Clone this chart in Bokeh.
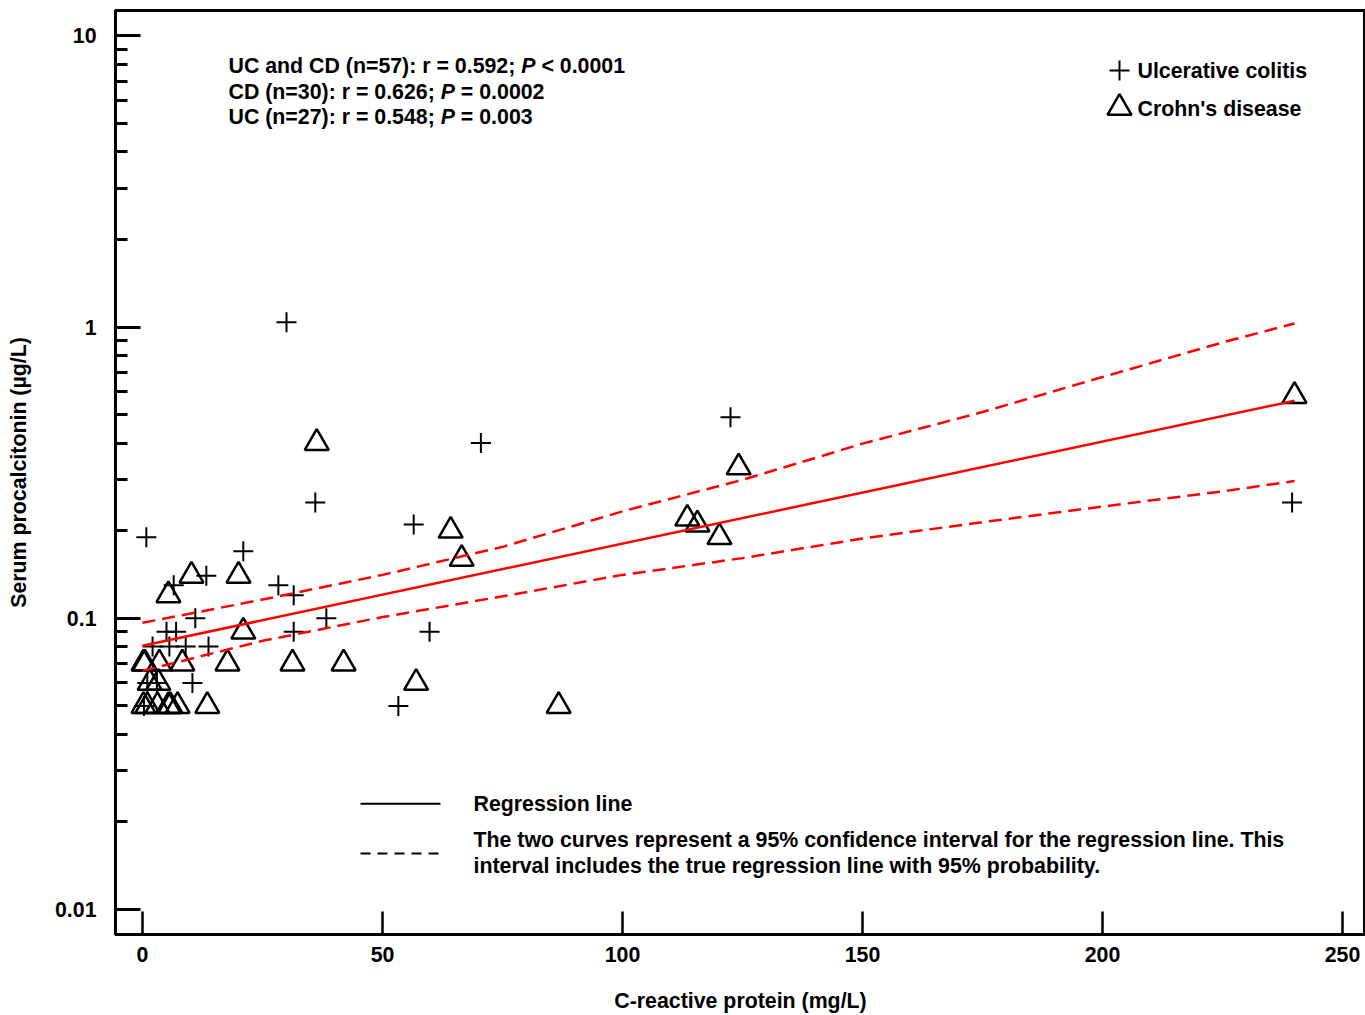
import math
from bokeh.plotting import figure
from bokeh.models import Range1d, FixedTicker, Label
from bokeh.embed import file_html
from bokeh.resources import INLINE

# ---------------- data ----------------
uc_crp = [30, 122.5, 70.5, 36, 239.5, 56.5, 0.8, 21, 13.3, 28.3, 6.5, 31.5, 11, 38.3,
          5, 7, 31.5, 59.8, 2.1, 5.6, 9, 13.75, 10.4, 1, 3, 0.3, 53.3]
uc_pct = [1.04, 0.49, 0.40, 0.25, 0.25, 0.21, 0.19, 0.17, 0.14, 0.13, 0.13, 0.12, 0.10, 0.10,
          0.09, 0.09, 0.09, 0.09, 0.08, 0.08, 0.08, 0.08, 0.06, 0.06, 0.06, 0.05, 0.05]

cd_crp = [240, 36.3, 124.2, 64.2, 66.5, 113.5, 115.6, 120.2, 5.4, 10.2, 20, 21,
          0.2, 0.5, 3.5, 8.3, 17.7, 31.25, 41.9, 1.5, 3.3, 57,
          0.2, 1, 3.1, 5.4, 5.8, 7.3, 13.5, 86.7]
cd_pct = [0.58, 0.40, 0.33, 0.20, 0.16, 0.22, 0.21, 0.19, 0.12, 0.14, 0.14, 0.09,
          0.07, 0.07, 0.07, 0.07, 0.07, 0.07, 0.07, 0.06, 0.06, 0.06,
          0.05, 0.05, 0.05, 0.05, 0.05, 0.05, 0.05, 0.05]

reg_x = [0, 240]
reg_y = [0.0805, 0.559]

ci_x = [0, 25, 50, 75, 100, 125, 150, 175, 200, 225, 240]
ci_upper = [0.0965, 0.116, 0.141, 0.176, 0.233, 0.299, 0.398, 0.511, 0.674, 0.886, 1.03]
ci_lower = [0.066, 0.0837, 0.101, 0.119, 0.141, 0.161, 0.188, 0.214, 0.242, 0.273, 0.296]

x_ticks = [0, 50, 100, 150, 200, 250]
y_ticks = [0.01, 0.1, 1, 10]
y_tick_labels = ["0.01", "0.1", "1", "10"]
y_minor = [m * 10.0 ** e for e in (-2, -1, 0) for m in range(2, 10)]

stats_lines = [
    ("UC and CD (n=57): r = 0.592;", "< 0.0001"),
    ("CD (n=30): r = 0.626;", "= 0.0002"),
    ("UC (n=27): r = 0.548;", "= 0.003"),
]

# ---------------- layout helpers (page pixel -> data) ----------------
W, H = 1365, 1015
FRAME_LEFT, FRAME_TOP, FRAME_BOTTOM = 115, 10, 935


def X(px):
    return (px - 142) / 4.8


def Y(py):
    return 10 ** ((327 - py) / 291.5)


FONT = "Liberation Sans"
EM = 21.33
FS = "16pt"

p = figure(width=W, height=H, y_axis_type="log", output_backend="svg", toolbar_location=None,
           x_range=Range1d(X(FRAME_LEFT), X(W)), y_range=Range1d(Y(FRAME_BOTTOM), Y(FRAME_TOP)),
           min_border_left=FRAME_LEFT, min_border_right=0, min_border_top=FRAME_TOP,
           min_border_bottom=H - FRAME_BOTTOM)
p.xgrid.visible = False
p.ygrid.visible = False
p.outline_line_color = "black"
p.outline_line_width = 3
p.background_fill_color = "white"
p.border_fill_color = "white"

xa = p.xaxis[0]
xa.ticker = FixedTicker(ticks=x_ticks, minor_ticks=[])
xa.major_tick_in = 23
xa.major_tick_out = 0
xa.minor_tick_in = 0
xa.minor_tick_out = 0
xa.major_tick_line_width = 2.5
xa.axis_line_width = 3
xa.major_label_standoff = 12
xa.axis_label = "C-reactive protein (mg/L)"
xa.axis_label_standoff = 24

ya = p.yaxis[0]
ya.ticker = FixedTicker(ticks=y_ticks, minor_ticks=y_minor)
ya.major_label_overrides = {t: s for t, s in zip(y_ticks, y_tick_labels)}
ya.major_tick_in = 25
ya.major_tick_out = 0
ya.minor_tick_in = 12
ya.minor_tick_out = 0
ya.major_tick_line_width = 3
ya.minor_tick_line_width = 3
ya.axis_line_width = 3
ya.major_label_standoff = 19
ya.axis_label = "Serum procalcitonin (µg/L)"
ya.axis_label_standoff = 21

for ax in (xa, ya):
    ax.major_label_text_font = FONT
    ax.major_label_text_font_style = "bold"
    ax.major_label_text_font_size = FS
    ax.major_label_text_color = "black"
    ax.axis_label_text_font = FONT
    ax.axis_label_text_font_style = "bold"
    ax.axis_label_text_font_size = FS
    ax.axis_label_text_color = "black"
    ax.axis_line_color = "black"
    ax.major_tick_line_color = "black"
    ax.minor_tick_line_color = "black"

# ---------------- data marks ----------------
p.scatter(uc_crp, uc_pct, marker="cross", size=20, line_color="black", line_width=2)
p.scatter(cd_crp, cd_pct, marker="triangle", size=24, line_color="black", line_width=2.5,
          fill_alpha=0)

p.line(reg_x, reg_y, line_color="red", line_width=2.5)
p.line(ci_x, ci_upper, line_color="red", line_width=2.5, line_dash="13 7")
p.line(ci_x, ci_lower, line_color="red", line_width=2.5, line_dash="13 7")


def label(px, py, text, style="bold", align="left"):
    p.add_layout(Label(x=X(px), y=Y(py), text=text, text_font=FONT, text_font_style=style,
                       text_font_size=FS, text_color="black", text_baseline="middle",
                       text_align=align))


# statistics block (italic P placed using Liberation/Arial Bold metrics)
p_pos = [228 + 13.726 * EM, 228 + 9.948 * EM, 228 + 9.948 * EM]
for i, ((pre, post), ppx) in enumerate(zip(stats_lines, p_pos)):
    py = 66 + i * 25.5
    label(228, py, pre)
    label(ppx, py, "P", style="bold italic")
    label(ppx + (0.667 + 0.278) * EM, py, post)

# marker key, top right
p.scatter([X(1119)], [Y(70)], marker="cross", size=20, line_color="black", line_width=2)
p.scatter([X(1119)], [Y(107.5)], marker="triangle", size=24, line_color="black",
          line_width=2.5, fill_alpha=0)
label(1137, 71, "Ulcerative colitis")
label(1137, 109, "Crohn's disease")

# line key, bottom
p.line([X(360), X(440)], [Y(804), Y(804)], line_color="black", line_width=2)
p.line([X(360), X(440)], [Y(854), Y(854)], line_color="black", line_width=2, line_dash="10 7")
label(473, 804, "Regression line")
label(473, 840, "The two curves represent a 95% confidence interval for the regression line. This")
label(473, 866, "interval includes the true regression line with 95% probability.")

open("out.html", "w").write(file_html(p, INLINE))
